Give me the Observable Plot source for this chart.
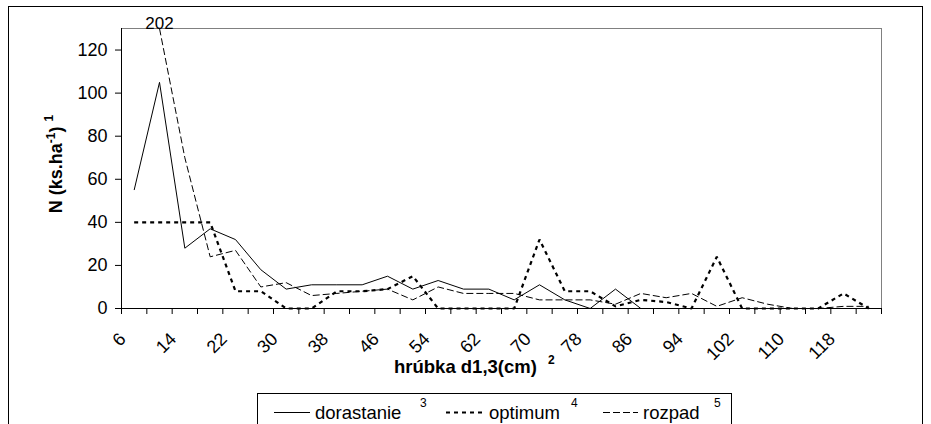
<!DOCTYPE html>
<html>
<head>
<meta charset="utf-8">
<script src="https://cdn.jsdelivr.net/npm/d3@7"></script>
<script src="https://cdn.jsdelivr.net/npm/@observablehq/plot@0.6"></script>
<style>
  html, body { margin: 0; padding: 0; background: #fff; }
  #wrap { position: relative; width: 931px; height: 424px; overflow: hidden; font-family: 'Liberation Sans', Arial, sans-serif; }
  #frame { position: absolute; left: 8px; top: 6px; width: 915px; height: 440px; border: 1px solid #000; box-sizing: border-box; }
  #chart { position: absolute; left: 0; top: 0; }
  #legend { position: absolute; left: 257px; top: 393px; width: 475px; height: 40px; border: 1px solid #000; box-sizing: border-box; background: #fff; }
</style>
</head>
<body>
<div id="wrap">
  <div id="frame"></div>
  <div id="chart"></div>
  <div id="legend"></div>
</div>
<script>
// ---- data ----
const categories = [6,10,14,18,22,26,30,34,38,42,46,50,54,58,62,66,70,74,78,82,86,90,94,98,102,106,110,114,118,122];
const dorastanie = [55,105,28,37,32,18,9,11,11,11,15,9,13,9,9,4,11,4,0,9,0,0,0,0,0,0,0,0,0,0];
const optimum    = [40,40,40,40,8,8,0,0,8,8,9,15,0,0,0,0,32,8,8,1,4,3,0,24,0,0,0,0,7,0];
const rozpad     = [null,202,70,24,27,10,12,6,7,8,9,4,10,7,7,7,4,4,4,2,7,5,7,1,5,2,0,0,1,1];
const xTickLabels = [6,14,22,30,38,46,54,62,70,78,86,94,102,110,118];
const yTicks = [0,20,40,60,80,100,120];
const seriesNames = ["dorastanie","optimum","rozpad"];
const seriesSup = ["3","4","5"];
const yTitle = "N (ks.ha";
const xTitle = "hrúbka d1,3(cm)";

// ---- derived ----
const yMax = 130;
const step = 4;
const boundaries = categories.map(c => c - step/2).concat([categories[categories.length-1] + step/2]);
const seriesValues = {dorastanie, optimum, rozpad};
const rows = [];
for (const name of seriesNames) {
  seriesValues[name].forEach((v, i) => { if (v != null) rows.push({series: name, x: categories[i], v}); });
}
const styles = {
  dorastanie: {stroke: "#000", strokeWidth: 1},
  optimum: {stroke: "#000", strokeWidth: 2.2, strokeDasharray: "4,4"},
  rozpad: {stroke: "#000", strokeWidth: 1, strokeDasharray: "7,3"}
};

const chart = Plot.plot({
  width: 931,
  height: 388,
  marginLeft: 121,
  marginRight: 50,
  marginTop: 28,
  marginBottom: 80,
  x: {type: "linear", domain: [boundaries[0], boundaries[boundaries.length-1]]},
  y: {domain: [0, yMax]},
  style: {fontFamily: "'Liberation Sans', Arial, sans-serif", fontSize: "18px", color: "#000", background: "transparent", overflow: "visible"},
  marks: [
    Plot.frame({stroke: "#808080"}),
    ...seriesNames.map(name => Plot.line(rows.filter(d => d.series === name), {
      x: "x", y: d => Math.min(d.v, yMax), ...styles[name], strokeLinejoin: "miter", strokeLinecap: "butt"
    })),
    Plot.ruleX([boundaries[0]], {stroke: "#000", strokeWidth: 1}),
    Plot.ruleY([0], {stroke: "#000", strokeWidth: 1}),
    Plot.axisY({ticks: yTicks, tickSize: 6, tickPadding: 8, fontSize: 18, label: null}),
    Plot.axisX({ticks: boundaries, tickSize: 6, tickFormat: () => "", label: null}),
    Plot.text(rows.filter(d => d.v > yMax), {x: "x", text: d => String(d.v), frameAnchor: "top", lineAnchor: "bottom", fontSize: 17})
  ]
});
document.getElementById("chart").appendChild(chart);

const svg = d3.select(chart);
const xs = chart.scale("x");
const ys = chart.scale("y");
const axisY0 = ys.apply(0);

// rotated x tick labels, positioned with the plot's x scale
const xl = svg.append("g").attr("font-size", 18).attr("fill", "#000");
xTickLabels.forEach(v => {
  xl.append("g")
    .attr("transform", `translate(${xs.apply(v) - 11},${axisY0 + 28})`)
    .append("g")
    .attr("transform", "rotate(-45)")
    .append("text")
    .attr("text-anchor", "end")
    .attr("dy", "0.32em")
    .text(String(v));
});

// axis titles with superscripts
const yt = svg.append("text")
  .attr("transform", "translate(61.5,164) rotate(-90)")
  .attr("text-anchor", "middle")
  .attr("font-weight", "bold")
  .attr("font-size", 18)
  .attr("fill", "#000");
yt.append("tspan").text(yTitle);
yt.append("tspan").attr("font-size", 12).attr("dy", -7).text("-1");
yt.append("tspan").attr("dy", 7).text(")");
yt.append("tspan").attr("font-size", 12).attr("dy", -9).attr("dx", 5).text("1");

const xt = svg.append("text")
  .attr("x", 394).attr("y", 373)
  .attr("text-anchor", "start")
  .attr("font-weight", "bold")
  .attr("font-size", 18.5)
  .attr("fill", "#000");
xt.append("tspan").text(xTitle);
xt.append("tspan").attr("font-size", 12).attr("dy", -9).attr("dx", 11).text("2");

// legend
const lg = d3.select("#legend").append("svg").attr("width", 475).attr("height", 40)
  .style("font-family", "'Liberation Sans', Arial, sans-serif");
const legendPos = [
  {x0: 16, x1: 52, tx: 57, sx: 162},
  {x0: 188, x1: 226, tx: 231, sx: 313},
  {x0: 345, x1: 380, tx: 385, sx: 456}
];
seriesNames.forEach((name, i) => {
  const p = legendPos[i];
  const st = styles[name];
  lg.append("line").attr("x1", p.x0).attr("x2", p.x1).attr("y1", 18.5).attr("y2", 18.5)
    .attr("stroke", st.stroke).attr("stroke-width", st.strokeWidth)
    .attr("stroke-dasharray", st.strokeDasharray || null);
  lg.append("text").attr("x", p.tx).attr("y", 25).attr("font-size", 18.5).attr("fill", "#000").text(name);
  lg.append("text").attr("x", p.sx).attr("y", 13).attr("font-size", 12).attr("fill", "#000").text(seriesSup[i]);
});
</script>
</body>
</html>
